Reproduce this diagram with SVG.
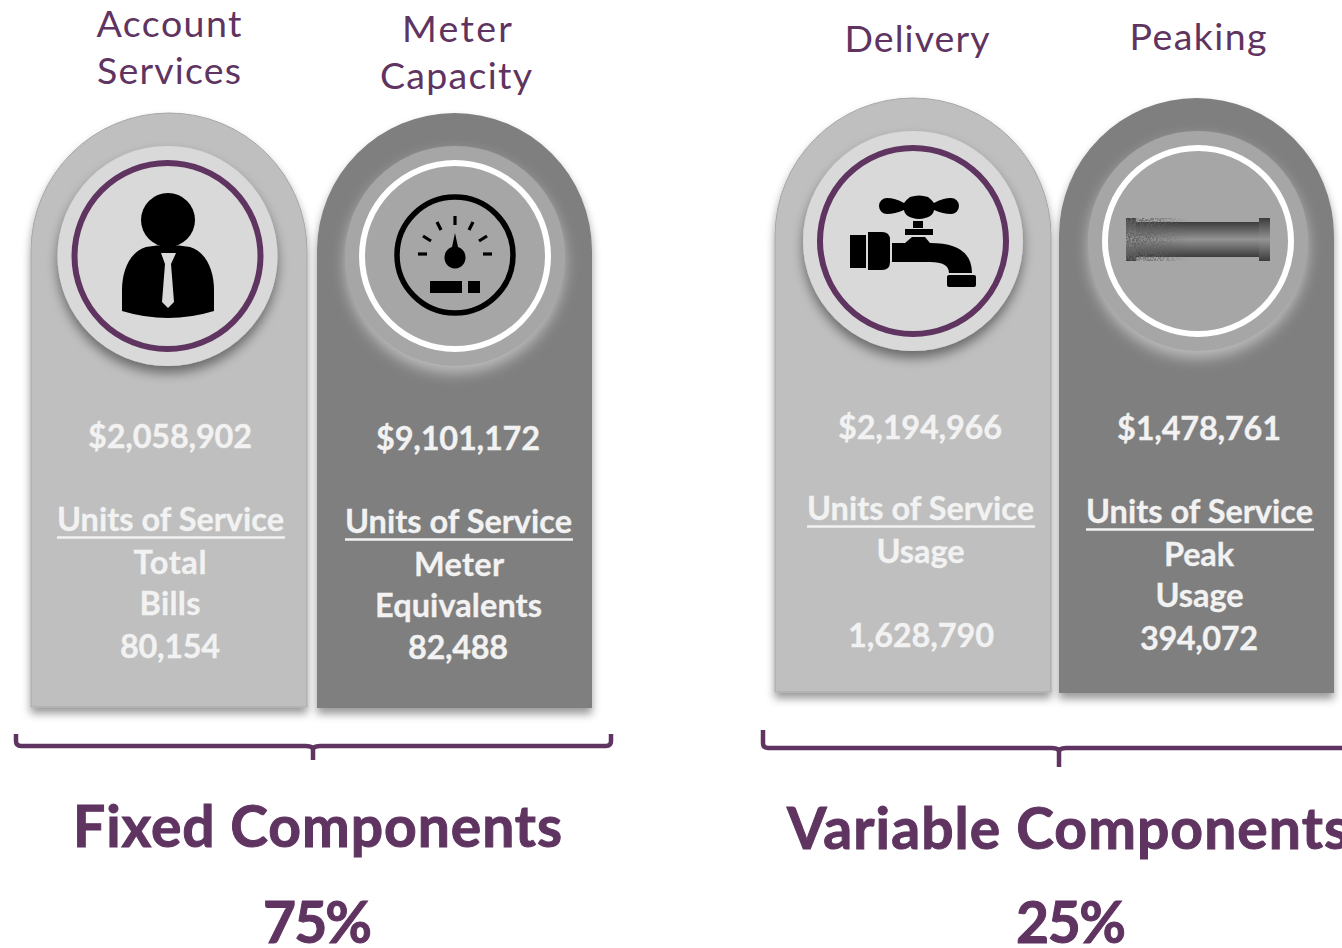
<svg xmlns="http://www.w3.org/2000/svg" width="1342" height="948" viewBox="0 0 1342 948">
<style>
text{font-family:Lato,"Liberation Sans",sans-serif;text-anchor:middle}
.head{font-size:37.500px;fill:#5f3461}
.val{font-size:32.500px;font-weight:700;fill:#f2f2f2;stroke:#f2f2f2;stroke-width:.3}
.ul{stroke:#f2f2f2;stroke-width:2.5}
.big{font-size:57px;font-weight:700;fill:#5f3461;stroke:#5f3461;stroke-width:1}
.lt{fill:#bfbfbf}.dk{fill:#7f7f7f}
.bk{fill:none;stroke:#5f3461;stroke-width:4.500}
.ring{fill:none;stroke-width:6}
.ic{fill:#000}
</style>
<defs>
<filter id="sh" x="-10%" y="-10%" width="120%" height="120%"><feDropShadow dx="0" dy="6" stdDeviation="4" flood-color="#000" flood-opacity=".4"/></filter>
<filter id="ds" x="-20%" y="-20%" width="140%" height="140%"><feDropShadow dx="0" dy="7" stdDeviation="6" flood-color="#000" flood-opacity=".45"/></filter>
<filter id="gl" x="-20%" y="-20%" width="140%" height="140%"><feDropShadow dx="0" dy="7" stdDeviation="7" flood-color="#e6e6e6" flood-opacity=".6"/></filter>
<filter id="noise" x="0" y="0" width="100%" height="100%"><feTurbulence type="fractalNoise" baseFrequency=".55" numOctaves="2" seed="4"/><feColorMatrix values="0 0 0 0 .12 0 0 0 0 .12 0 0 0 0 .12 0 0 0 5 -2"/><feComposite in2="SourceGraphic" operator="in"/></filter>
<linearGradient id="pg" x1="0" y1="0" x2="0" y2="1"><stop offset="0" stop-color="#3c3c3c"/><stop offset=".5" stop-color="#939393"/><stop offset="1" stop-color="#3c3c3c"/></linearGradient>
<linearGradient id="pl" x1="0" y1="0" x2="1" y2="0"><stop offset="0" stop-color="#fff"/><stop offset=".45" stop-color="#fff" stop-opacity=".7"/><stop offset="1" stop-color="#fff" stop-opacity="0"/></linearGradient>
</defs>

<g id="account-services">
<text class="head" x="169" y="37" textLength="145">Account</text>
<text class="head" x="169" y="84" textLength="144">Services</text>
<path class="lt" filter="url(#sh)" stroke="#a6a6a6" d="M31 707V251A138 138 0 0 1 307 251V707Z"/>
<circle cx="167.500" cy="256" r="110" fill="#d9d9d9" filter="url(#ds)"/>
<circle class="ring" cx="167.500" cy="256" r="93" stroke="#5f3461"/>
<circle class="ic" cx="168" cy="220" r="27"/>
<path class="ic" d="M146 247Q168 243 190 247C206 252 214 270 214 290V311Q168 325 122 311V290C122 270 130 252 146 247Z"/>
<path fill="#d9d9d9" d="M161 253H176L171 264L174 302L168 308L162 302L165 264Z"/>
<text class="val" x="170" y="447.500" textLength="164">$2,058,902</text>
<text class="val" x="170.500" y="531" textLength="227">Units of Service</text>
<line class="ul" x1="57" x2="285" y1="537.500" y2="537.500"/>
<text class="val" x="170" y="574" textLength="73">Total</text>
<text class="val" x="170" y="615" textLength="61">Bills</text>
<text class="val" x="170" y="658" textLength="100">80,154</text>
</g>

<g id="meter-capacity">
<text class="head" x="457" y="42" textLength="110">Meter</text>
<text class="head" x="456" y="89" textLength="152">Capacity</text>
<path class="dk" filter="url(#sh)" d="M317 708V251A137.500 138 0 0 1 592 251V708Z"/>
<circle cx="455" cy="256" r="110" fill="#a6a6a6" filter="url(#gl)"/>
<circle class="ring" cx="455" cy="256" r="93" stroke="#fff"/>
<circle cx="455" cy="255" r="58" fill="none" stroke="#000" stroke-width="5.500"/>
<g stroke="#000" stroke-width="3.200">
<line x1="418" y1="254" x2="427" y2="254"/><line x1="483" y1="254" x2="492" y2="254"/>
<line x1="423" y1="236" x2="431" y2="241"/><line x1="487" y1="236" x2="479" y2="241"/>
<line x1="437" y1="222" x2="441" y2="230"/><line x1="473" y1="222" x2="469" y2="230"/>
<line x1="455" y1="216" x2="455" y2="225"/>
</g>
<path class="ic" d="M455 233L458 247A10.500 11 0 1 1 452 247Z"/>
<rect class="ic" x="430" y="281" width="32" height="12"/>
<rect class="ic" x="468" y="281" width="12" height="12"/>
<text class="val" x="458" y="449.500" textLength="164">$9,101,172</text>
<text class="val" x="458.500" y="533" textLength="227">Units of Service</text>
<line class="ul" x1="345" x2="573" y1="539.500" y2="539.500"/>
<text class="val" x="459" y="576" textLength="90">Meter</text>
<text class="val" x="458.500" y="617" textLength="167">Equivalents</text>
<text class="val" x="458" y="659" textLength="100">82,488</text>
</g>

<g id="delivery">
<text class="head" x="917" y="52" textLength="145">Delivery</text>
<path class="lt" filter="url(#sh)" stroke="#a6a6a6" d="M775 692V236A138 138 0 0 1 1051 236V692Z"/>
<circle cx="913" cy="241" r="110" fill="#d9d9d9" filter="url(#ds)"/>
<circle class="ring" cx="913" cy="241" r="93" stroke="#5f3461"/>
<g class="ic">
<rect x="850" y="235" width="16" height="33"/>
<path d="M868 232H882Q890 232 890 240V262Q890 270 882 270H868Z"/>
<path d="M892 243H905L912 237H925L930 243Q972 243 972 273H949Q949 262 930 262H892Z"/>
<rect x="947" y="275" width="29" height="12" rx="2"/>
<rect x="905" y="229" width="28" height="6"/>
<rect x="913" y="221" width="10" height="7"/>
<path d="M910 197Q919 194 928 197Q932 200 934 203Q943 198 951 198A8 8 0 0 1 951 214Q943 214 934 210Q933 218 919 219Q905 218 904 210Q895 214 887 214A8 8 0 0 1 887 198Q895 198 904 203Q906 200 910 197Z"/>
</g>
<text class="val" x="920" y="438.500" textLength="164">$2,194,966</text>
<text class="val" x="920.500" y="520" textLength="227">Units of Service</text>
<line class="ul" x1="807" x2="1035" y1="526.500" y2="526.500"/>
<text class="val" x="920.500" y="563" textLength="88">Usage</text>
<text class="val" x="921" y="647" textLength="146">1,628,790</text>
</g>

<g id="peaking">
<text class="head" x="1198" y="50" textLength="137">Peaking</text>
<path class="dk" filter="url(#sh)" d="M1059 693V236A137.500 138 0 0 1 1334 236V693Z"/>
<circle cx="1198" cy="241" r="110" fill="#a6a6a6" filter="url(#gl)"/>
<circle class="ring" cx="1198" cy="241" r="93" stroke="#fff"/>
<rect x="1133" y="222" width="130" height="35" fill="url(#pg)"/>
<rect x="1126" y="218" width="10" height="43" fill="url(#pg)"/>
<rect x="1259" y="218" width="11" height="43" fill="url(#pg)"/>
<mask id="pm"><rect x="1126" y="218" width="62" height="43" fill="url(#pl)"/></mask>
<rect x="1126" y="218" width="62" height="43" filter="url(#noise)" mask="url(#pm)"/>
<text class="val" x="1199" y="439.500" textLength="164">$1,478,761</text>
<text class="val" x="1199.500" y="523" textLength="227">Units of Service</text>
<line class="ul" x1="1086" x2="1314" y1="529.500" y2="529.500"/>
<text class="val" x="1199" y="566" textLength="70">Peak</text>
<text class="val" x="1199.500" y="607" textLength="88">Usage</text>
<text class="val" x="1199" y="650" textLength="118">394,072</text>
</g>

<g id="connectors">
<path class="bk" d="M16 734V741Q16 746 21 746H306Q313 746 313 750V760M313 750Q313 746 320 746H606Q611 746 611 741V734"/>
<path class="bk" d="M763 730V743Q763 748 768 748H1052Q1059 748 1059 752V767M1059 752Q1059 748 1066 748H1346"/>
</g>

<g id="fixed-label">
<text class="big" x="317.500" y="847" textLength="489">Fixed Components</text>
<text class="big" x="317.500" y="943" textLength="109">75%</text>
</g>
<g id="variable-label">
<text class="big" x="1068" y="849" textLength="562">Variable Components</text>
<text class="big" x="1071" y="943" textLength="110">25%</text>
</g>
</svg>
